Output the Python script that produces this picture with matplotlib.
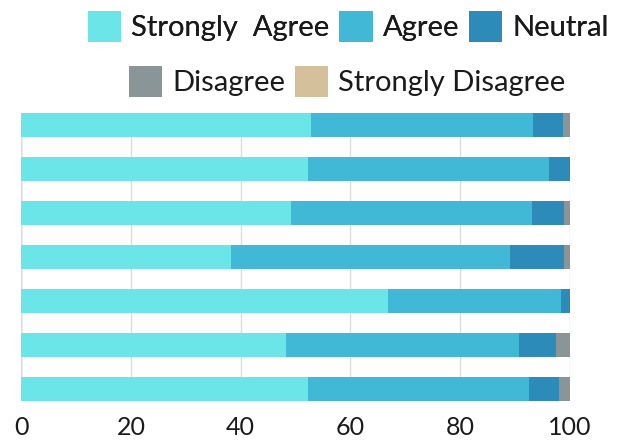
import numpy as np
import matplotlib
matplotlib.use("Agg")
import matplotlib.pyplot as plt
from matplotlib.patches import Patch

plt.rcParams['font.family'] = ['Lato', 'DejaVu Sans']

# survey responses per question, percent
categories = ["Strongly  Agree", "Agree", "Neutral", "Disagree", "Strongly Disagree"]
colors = ["#6ce5e8", "#41b8d5", "#2d8bba", "#8a9598", "#d4c19c"]

strongly_agree = [52.8, 52.3, 49.2, 38.3, 66.9, 48.3, 52.3]
agree = [40.5, 44.0, 43.9, 50.9, 31.6, 42.5, 40.3]
neutral = [5.5, 3.7, 5.9, 9.8, 1.5, 6.7, 5.5]
disagree = [1.2, 0.0, 1.0, 1.0, 0.0, 2.5, 1.9]
strongly_disagree = [0.0, 0.0, 0.0, 0.0, 0.0, 0.0, 0.0]

series = [strongly_agree, agree, neutral, disagree, strongly_disagree]

fig = plt.figure(figsize=(6.31, 4.47), dpi=100)
ax = fig.add_axes([0.0336, 0.1029, 0.8692, 0.6443])

y = np.arange(len(strongly_agree))
bar_h = 0.534
left = np.zeros(len(y))
for vals, col, name in zip(series, colors, categories):
    vals = np.array(vals)
    ax.barh(y, vals, left=left, height=bar_h, color=col, label=name, zorder=2)
    left += vals

ax.set_xlim(0, 100)
ax.set_ylim(len(y) - 1 + bar_h / 2, -bar_h / 2)
ax.set_xticks(range(0, 101, 20))
ax.set_yticks([])
ax.grid(axis="x", color="#dcdcdc", linewidth=1, zorder=0)
ax.axvline(0, color="#a8a8a8", linewidth=1, zorder=1)
for s in ax.spines.values():
    s.set_visible(False)
ax.tick_params(axis="x", length=0, pad=11, labelsize=18, labelcolor="#1a1a1a")

handles = [Patch(facecolor=c, edgecolor="none") for c in colors]
leg_kw = dict(frameon=False, fontsize=21, handlelength=1.14, handleheight=1.27,
              handletextpad=0.34, columnspacing=0.34, borderpad=0, borderaxespad=0,
              labelcolor="#1a1a1a")
leg1 = fig.legend(handles[:3], categories[:3], ncol=3, loc="center",
                  bbox_to_anchor=(0.552, 0.941), **leg_kw)
leg2 = fig.legend(handles[3:], categories[3:], ncol=2, loc="center",
                  bbox_to_anchor=(0.55, 0.818), **leg_kw)
fig.add_artist(leg1)

fig.savefig("out.png", dpi=100)
